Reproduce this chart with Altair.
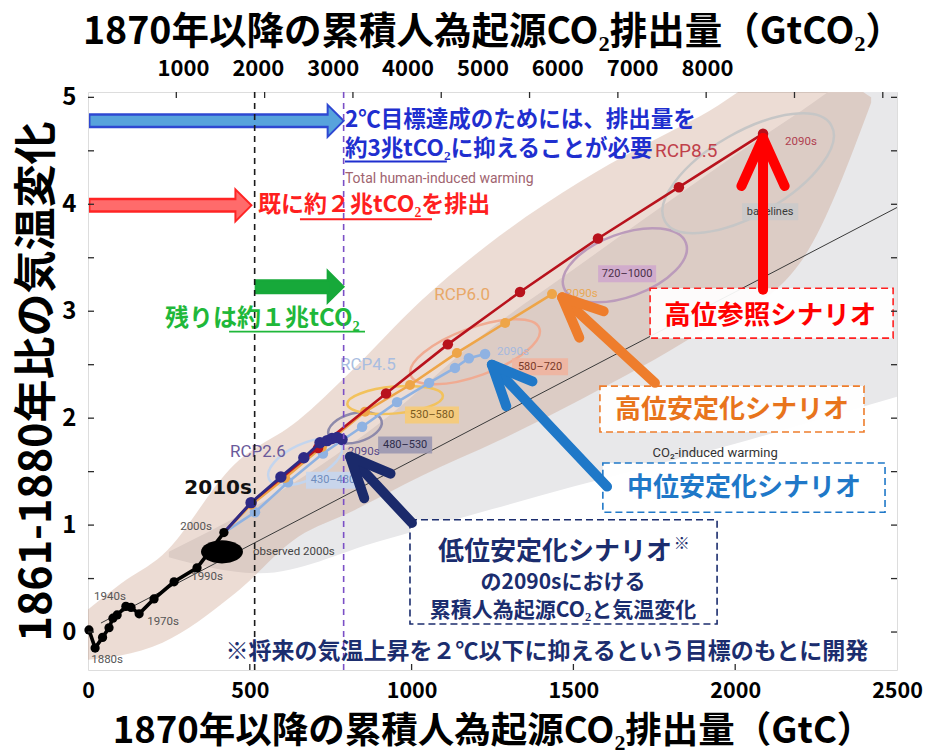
import math
import altair as alt
import pandas as pd

# ------------------------------------------------------------------ layout --
PLOT_W, PLOT_H = 809, 578
X_DOMAIN = [0, 2500]            # cumulative CO2 since 1870, GtC
Y_DOMAIN = [-0.355, 5.05]       # warming relative to 1861-1880, deg C
TOP_DOMAIN = [-269, 10539]      # GtCO2 label row along the top
PX_PER_GTC = PLOT_W / (X_DOMAIN[1] - X_DOMAIN[0])
PX_PER_DEG = PLOT_H / (Y_DOMAIN[1] - Y_DOMAIN[0])

JP = "Noto Sans CJK JP"
LAT = "Roboto"

# -------------------------------------------------------------------- data --
# observed decadal means (1880s ... 2000s)
obs_gtc = [3, 22, 45, 65, 77, 90, 117, 133, 158, 204, 266, 337, 420]
obs_dt = [0.02, -0.15, -0.05, 0.04, 0.13, 0.16, 0.24, 0.23, 0.17, 0.31, 0.47, 0.60, 0.93]

# RCP decadal means, starting from the observed 2000s
rcp26_gtc = [420, 504, 596, 667, 717, 739, 754, 770, 785]
rcp26_dt = [0.93, 1.21, 1.45, 1.63, 1.77, 1.79, 1.81, 1.82, 1.80]
rcp45_gtc = [420, 516, 618, 726, 847, 955, 1054, 1134, 1177, 1227]
rcp45_dt = [0.93, 1.12, 1.40, 1.67, 1.92, 2.15, 2.33, 2.47, 2.56, 2.60]
rcp60_gtc = [420, 504, 609, 723, 856, 995, 1140, 1289, 1434]
rcp60_dt = [0.93, 1.19, 1.44, 1.73, 2.06, 2.31, 2.61, 2.89, 3.16]
rcp85_gtc = [420, 504, 711, 921, 1112, 1335, 1576, 1826, 2086]
rcp85_dt = [0.93, 1.21, 1.72, 2.23, 2.69, 3.18, 3.68, 4.16, 4.66]

# CO2-induced warming (1 %/yr CO2 runs)
co2only_gtc = [40, 2500]
co2only_dt = [0.084, 3.97]

# total human-induced warming plume
tan_gtc = [0, 100, 230, 450, 650, 810, 1030, 1270, 1520, 1890, 2200, 2420]
tan_lo = [-0.26, -0.22, -0.10, 0.35, 0.89, 1.12, 1.46, 1.79, 2.17, 2.80, 3.45, 4.95]
tan_hi = [0.21, 0.45, 0.72, 1.56, 1.98, 2.43, 3.10, 3.70, 4.21, 4.82, 5.30, 5.00]

# CO2-induced warming plume
gray_gtc = [250, 530, 900, 1250, 1500, 1750, 2000, 2250, 2500]
gray_lo = [0.70, 0.55, 0.85, 1.15, 1.36, 1.56, 1.76, 1.98, 2.20]
gray_hi = [0.75, 1.20, 1.95, 2.85, 3.39, 3.93, 4.46, 4.97, 5.53]

# concentration-category ellipses (ppm CO2-eq in 2100)
ell_gtc = [671, 825, 949, 1196, 1659, 2040]
ell_dt = [1.59, 1.91, 2.17, 2.62, 3.43, 4.29]
ell_w = [80, 55, 96, 137, 130, 192]
ell_ratio = [0.45, 0.53, 0.28, 0.35, 0.485, 0.43]
ell_tilt = [25, 15, 5, 20, 20, 30]
ell_color = ["#c3d5ee", "#8d89aa", "#f2c25c", "#f0ab92", "#bb9bbb", "#c6c6c6"]

tag_text = ["430–480", "480–530", "530–580", "580–720", "720–1000", "baselines"]
tag_gtc = [757, 980, 1063, 1397, 1666, 2108]
tag_dt = [1.42, 1.75, 2.03, 2.48, 3.35, 3.93]
tag_w = [54, 54, 54, 56, 58, 56]
tag_bg = ["#c5d6ee", "#9a97b0", "#f6cb76", "#efb49f", "#cfa8cc", "#cacaca"]
tag_fg = ["#6f8cbc", "#2e2c4a", "#7a5a1e", "#7a3a28", "#4a3048", "#3a3a3a"]

# axis tick / label values
x_labels = [0, 500, 1000, 1500, 2000, 2500]
y_labels = [0, 1, 2, 3, 4, 5]
top_labels = [1000, 2000, 3000, 4000, 5000, 6000, 7000, 8000]
GTC_PER_1000_GTCO2 = 272.9
top_ticks = [GTC_PER_1000_GTCO2 * k for k in range(1, 10)]
bottom_ticks = [500, 1000, 1500, 2000]
side_ticks = [0.5 * k for k in range(0, 11)]

# budget lines: already emitted (2011) and 2 deg C budget
budget_gtc = [515, 790]
budget_color = ["#1a1a1a", "#7b4fc6"]

# ------------------------------------------------------------------ axes ---
XS = alt.Scale(domain=X_DOMAIN, nice=False, zero=False)
YS = alt.Scale(domain=Y_DOMAIN, nice=False, zero=False)

AX_X = alt.Axis(
    values=x_labels, format="d", ticks=False, domain=False, grid=False,
    labelFont=JP, labelFontWeight="bold", labelFontSize=21.5, labelColor="black",
    labelPadding=10, labelFlush=False, labelOverlap=False,
    title="1870年以降の累積人為起源CO₂排出量（GtC）", titleFont=JP,
    titleFontWeight="bold", titleFontSize=36.5, titleColor="black", titlePadding=12)
AX_Y = alt.Axis(
    values=y_labels, format="d", ticks=False, domain=False, grid=False,
    labelFont=JP, labelFontWeight="bold", labelFontSize=24, labelColor="black",
    labelPadding=12, labelFlush=False,
    title="1861-1880年比の気温変化", titleFont=JP, titleFontWeight="bold",
    titleFontSize=43, titleColor="black", titlePadding=2)


def X(f="x"):
    return alt.X(f"{f}:Q", scale=XS, axis=AX_X)


def Y(f="y"):
    return alt.Y(f"{f}:Q", scale=YS, axis=AX_Y)


def ellipse_path(r):
    k = 0.5523
    return (f"M1,0C1,{k*r:.4f} {k:.4f},{r:.4f} 0,{r:.4f}"
            f"C{-k:.4f},{r:.4f} -1,{k*r:.4f} -1,0"
            f"C-1,{-k*r:.4f} {-k:.4f},{-r:.4f} 0,{-r:.4f}"
            f"C{k:.4f},{-r:.4f} 1,{-k*r:.4f} 1,0Z")


def rect_path(r):
    return f"M-1,{-r:.4f}L1,{-r:.4f}L1,{r:.4f}L-1,{r:.4f}Z"


def text_layer(xs, ys, labels, **style):
    df = pd.DataFrame({"x": xs, "y": ys, "t": labels})
    return alt.Chart(df).mark_text(**style).encode(x=X(), y=Y(), text="t:N")


def series(xs, ys, color, width, dot, first_dot=1):
    df = pd.DataFrame({"x": xs, "y": ys, "i": list(range(len(xs)))})
    line = alt.Chart(df).mark_line(color=color, strokeWidth=width).encode(
        x=X(), y=Y(), order="i:Q")
    pts = alt.Chart(df.iloc[first_dot:]).mark_circle(
        color=color, size=dot, opacity=1).encode(x=X(), y=Y())
    return [line, pts]


layers = []

# --------------------------------------------------------------- plumes ----
layers.append(
    alt.Chart(pd.DataFrame({"x": gray_gtc, "lo": gray_lo, "hi": gray_hi}))
    .mark_area(color="#e8e8ea", interpolate="monotone", clip=True)
    .encode(x=X(), y=Y("lo"), y2=alt.Y2("hi"))
)
layers.append(
    alt.Chart(pd.DataFrame({"x": tan_gtc, "lo": tan_lo, "hi": tan_hi}))
    .mark_area(color="#c08a70", opacity=0.3, interpolate="monotone", clip=True)
    .encode(x=X(), y=Y("lo"), y2=alt.Y2("hi"))
)

# ------------------------------------------------------------- ellipses ----
ell_df = pd.DataFrame({
    "x": ell_gtc, "y": ell_dt,
    "shape": [ellipse_path(r) for r in ell_ratio],
    "size": [w * w for w in ell_w],
    "angle": [360 - t for t in ell_tilt],
    "c": ell_color,
})
layers.append(
    alt.Chart(ell_df).mark_point(filled=False, strokeWidth=2.5, opacity=1)
    .encode(x=X(), y=Y(), shape=alt.Shape("shape:N", scale=None),
            size=alt.Size("size:Q", scale=None), angle=alt.Angle("angle:Q", scale=None),
            color=alt.Color("c:N", scale=None))
)

# CO2-only line
layers.append(
    alt.Chart(pd.DataFrame({"x": co2only_gtc, "y": co2only_dt}))
    .mark_line(color="#3a3a3a", strokeWidth=1).encode(x=X(), y=Y())
)

# ---------------------------------------------------------------- tags -----
tag_df = pd.DataFrame({
    "x": tag_gtc, "y": tag_dt, "t": tag_text,
    "shape": [rect_path(17 / w) for w in tag_w],
    "size": [w * w for w in tag_w],
    "bg": tag_bg, "fg": tag_fg,
})
layers.append(
    alt.Chart(tag_df).mark_point(filled=True, opacity=0.9, strokeWidth=0)
    .encode(x=X(), y=Y(), shape=alt.Shape("shape:N", scale=None),
            size=alt.Size("size:Q", scale=None), color=alt.Color("bg:N", scale=None))
)
layers.append(
    alt.Chart(tag_df).mark_text(font=LAT, fontSize=11)
    .encode(x=X(), y=Y(), text="t:N", color=alt.Color("fg:N", scale=None))
)

# ------------------------------------------------------------ RCP lines ----
layers += series(rcp45_gtc, rcp45_dt, "#8fb2e2", 2.6, 110)
layers += series(rcp60_gtc, rcp60_dt, "#eea548", 2.6, 100)
layers += series(rcp85_gtc, rcp85_dt, "#b8121c", 2.6, 110)
layers += series(rcp26_gtc, rcp26_dt, "#2e2a86", 3.0, 130)
layers += series(obs_gtc, obs_dt, "#000000", 3.6, 85, first_dot=0)

# observed 2000s range
layers.append(
    alt.Chart(pd.DataFrame({"x": [414], "y": [0.75]}))
    .mark_point(shape=ellipse_path(0.55), size=42 * 42, filled=True, color="black", opacity=1)
    .encode(x=X(), y=Y())
)

# --------------------------------------------------- figure annotations ----
layers.append(text_layer([59, 68, 232, 368, 334], [-0.26, 0.33, 0.09, 0.51, 0.98],
                         ["1880s", "1940s", "1970s", "1990s", "2000s"],
                         font=LAT, fontSize=11.5, color="#555555"))
layers.append(text_layer([510], [0.75], ["observed 2000s"], align="left",
                         font=LAT, fontSize=11.5, color="#444444"))
layers.append(text_layer([402], [1.35], ["2010s"], font="DejaVu Sans",
                         fontWeight="bold", fontSize=20, color="#111111"))
layers.append(text_layer([794], [4.24], ["Total human-induced warming"], align="left",
                         font=LAT, fontSize=14, color="#a0646f"))
layers.append(text_layer([1938], [1.67], ["CO₂-induced warming"],
                         font=LAT, fontSize=13, color="#333333"))
layers.append(text_layer([1752], [4.50], ["RCP8.5"], align="left",
                         font=LAT, fontSize=19, color="#c0404a"))
layers.append(text_layer([1156], [3.15], ["RCP6.0"], font=LAT, fontSize=17, color="#e8a868"))
layers.append(text_layer([865], [2.50], ["RCP4.5"], font=LAT, fontSize=17, color="#a9bde0"))
layers.append(text_layer([525], [1.68], ["RCP2.6"], font=LAT, fontSize=17, color="#6a5a9a"))
for gx, gy, col in [(2154, 4.58, "#b04050"), (1477, 3.16, "#e9a855"),
                    (1264, 2.62, "#a6b9de"), (803, 1.68, "#5a4a8a")]:
    layers.append(text_layer([gx], [gy], ["2090s"], align="left",
                             font=LAT, fontSize=11.5, color=col))

# --------------------------------------------------------- budget arrows ---
fat_y = [4.78, 3.99, 3.23]
fat_from = [3, 3, 515]
fat_tip = [790, 505, 790]
fat_edge = ["#2e48d2", "#ff2424", "#17a93a"]
fat_fill = ["#57a3dc", "#ff6b6b", "#17a93a"]
HEAD_PX = 16
fat_df = pd.DataFrame({
    "y": fat_y, "x0": fat_from, "tip": fat_tip,
    "base": [t - HEAD_PX / PX_PER_GTC for t in fat_tip],
    "in0": [f + 1.5 / PX_PER_GTC for f in fat_from],
    "in1": [t - (HEAD_PX - 2) / PX_PER_GTC for t in fat_tip],
    "edge": fat_edge, "fill": fat_fill,
})
layers.append(alt.Chart(fat_df).mark_rule(strokeWidth=15, strokeCap="butt")
              .encode(x=X("x0"), x2=alt.X2("base"), y=Y(),
                      color=alt.Color("edge:N", scale=None)))
layers.append(alt.Chart(fat_df).mark_point(shape="M-1,-1L0,0L-1,1Z", size=1024, filled=True,
                                           opacity=1, strokeWidth=2)
              .encode(x=X("tip"), y=Y(), fill=alt.Fill("fill:N", scale=None),
                      stroke=alt.Stroke("edge:N", scale=None)))
layers.append(alt.Chart(fat_df).mark_rule(strokeWidth=10, strokeCap="butt")
              .encode(x=X("in0"), x2=alt.X2("in1"), y=Y(),
                      color=alt.Color("fill:N", scale=None)))

# budget texts
BLUE, RED, GREEN, NAVY = "#1f2fcf", "#ff1f1f", "#1fb83a", "#1b2d6e"
layers.append(text_layer([794], [4.785], ["2℃目標達成のためには、排出量を"], align="left",
                         font=JP, fontWeight="bold", fontSize=22.5, color=BLUE))
layers.append(text_layer([794], [4.52], ["約3兆tCO₂に抑えることが必要"], align="left",
                         font=JP, fontWeight="bold", fontSize=22.5, color=BLUE))
layers.append(text_layer([525], [3.99], ["既に約２兆tCO₂を排出"], align="left",
                         font=JP, fontWeight="bold", fontSize=23, color=RED))
layers.append(text_layer([238], [2.93], ["残りは約１兆tCO₂"], align="left",
                         font=JP, fontWeight="bold", fontSize=24, color=GREEN))
ul_df = pd.DataFrame({"x0": [794, 655, 436], "x1": [1109, 1063, 856],
                      "y": [4.40, 3.86, 2.81], "c": [BLUE, RED, GREEN]})
layers.append(alt.Chart(ul_df).mark_rule(strokeWidth=1.8)
              .encode(x=X("x0"), x2=alt.X2("x1"), y=Y(), color=alt.Color("c:N", scale=None)))

# budget lines
layers.append(alt.Chart(pd.DataFrame({"x": budget_gtc, "c": budget_color}))
              .mark_rule(strokeWidth=1.6, strokeDash=[6, 5])
              .encode(x=X(), y=alt.value(0), y2=alt.value(PLOT_H),
                      color=alt.Color("c:N", scale=None)))

# ------------------------------------------------------- scenario boxes ----
box_df = pd.DataFrame({
    "x0": [1737, 1582, 1591, 995], "x1": [2488, 2398, 2463, 1944],
    "y0": [2.748, 1.87, 1.12, 0.075], "y1": [3.215, 2.30, 1.58, 1.05],
    "c": ["#ff2020", "#ee7d2c", "#1f78c8", NAVY],
})
layers.append(alt.Chart(box_df).mark_rect(fill="white", fillOpacity=0.92,
                                          strokeDash=[7, 4], strokeWidth=1.6)
              .encode(x=X("x0"), x2=alt.X2("x1"), y=Y("y0"), y2=alt.Y2("y1"),
                      stroke=alt.Stroke("c:N", scale=None)))
layers.append(text_layer([2108], [2.96], ["高位参照シナリオ"], font=JP, fontWeight="bold",
                         fontSize=26.5, color="#ff0000"))
layers.append(text_layer([1990], [2.08], ["高位安定化シナリオ"], font=JP, fontWeight="bold",
                         fontSize=26, color="#e8741c"))
layers.append(text_layer([2027], [1.35], ["中位安定化シナリオ"], font=JP, fontWeight="bold",
                         fontSize=26, color="#1f78c8"))
layers.append(text_layer([1443], [0.75], ["低位安定化シナリオ"], font=JP, fontWeight="bold",
                         fontSize=26, color=NAVY))
layers.append(text_layer([1835], [0.82], ["※"], font=JP, fontWeight="bold",
                         fontSize=16, color=NAVY))
layers.append(text_layer([1468], [0.455], ["の2090sにおける"], font=JP, fontWeight="bold",
                         fontSize=21, color=NAVY))
layers.append(text_layer([1468], [0.195], ["累積人為起源CO₂と気温変化"], font=JP, fontWeight="bold",
                         fontSize=21, color=NAVY))
layers.append(text_layer([1418], [-0.19], ["※将来の気温上昇を２℃以下に抑えるという目標のもとに開発"],
                         font=JP, fontWeight="bold", fontSize=23, color=NAVY))

# pointer arrows from boxes to the 2090s values
arr_tail_x = [2086, 1752, 1604, 1001]
arr_tail_y = [3.20, 2.33, 1.36, 1.02]
arr_tip_x = [2086, 1465, 1248, 810]
arr_tip_y = [4.62, 3.13, 2.50, 1.64]
arr_color = ["#ff0000", "#ee7d2c", "#1f78c8", "#1b2a6b"]
arr_head = [9216, 6400, 6400, 6400]
arr_angle = []
for x0, y0, x1, y1 in zip(arr_tail_x, arr_tail_y, arr_tip_x, arr_tip_y):
    dx = (x1 - x0) * PX_PER_GTC
    dy = (y1 - y0) * PX_PER_DEG
    arr_angle.append(math.degrees(math.atan2(dx, dy)) % 360)
arr_df = pd.DataFrame({"x0": arr_tail_x, "y0": arr_tail_y, "x1": arr_tip_x, "y1": arr_tip_y,
                       "c": arr_color, "size": arr_head, "angle": arr_angle})
layers.append(alt.Chart(arr_df).mark_rule(strokeWidth=10, strokeCap="round")
              .encode(x=X("x0"), y=Y("y0"), x2=alt.X2("x1"), y2=alt.Y2("y1"),
                      color=alt.Color("c:N", scale=None)))
layers.append(alt.Chart(arr_df).mark_point(shape="M-0.45,1L0,0L0.45,1", filled=False, opacity=1,
                                           strokeWidth=10, strokeCap="round", strokeJoin="round")
              .encode(x=X("x1"), y=Y("y1"), size=alt.Size("size:Q", scale=None),
                      angle=alt.Angle("angle:Q", scale=None),
                      color=alt.Color("c:N", scale=None)))

# ------------------------------------------------------------ frame ticks --
TICK = 6
layers.append(alt.Chart(pd.DataFrame({"x": top_ticks})).mark_rule(color="#2b2b2b", strokeWidth=1.3)
              .encode(x=X(), y=alt.value(0), y2=alt.value(TICK)))
layers.append(alt.Chart(pd.DataFrame({"x": bottom_ticks})).mark_rule(color="#2b2b2b", strokeWidth=1.3)
              .encode(x=X(), y=alt.value(PLOT_H), y2=alt.value(PLOT_H - TICK)))
layers.append(alt.Chart(pd.DataFrame({"y": side_ticks})).mark_rule(color="#2b2b2b", strokeWidth=1.3)
              .encode(y=Y(), x=alt.value(0), x2=alt.value(TICK)))
layers.append(alt.Chart(pd.DataFrame({"y": side_ticks})).mark_rule(color="#2b2b2b", strokeWidth=1.3)
              .encode(y=Y(), x=alt.value(PLOT_W), x2=alt.value(PLOT_W - TICK)))

# GtCO2 label row along the top, on a scale of its own
top_axis = alt.Chart(pd.DataFrame({"v": top_labels})).mark_point(opacity=0).encode(
    x=alt.X("v:Q", scale=alt.Scale(domain=TOP_DOMAIN, nice=False, zero=False),
            axis=alt.Axis(orient="top", values=top_labels, format="d", ticks=False,
                          domain=False, grid=False, labelFont=JP, labelFontWeight="bold",
                          labelFontSize=22, labelColor="black", labelPadding=12,
                          title="1870年以降の累積人為起源CO₂排出量（GtCO₂）", titleFont=JP,
                          titleFontWeight="bold", titleFontSize=37.5, titleColor="black",
                          titlePadding=6)),
    y=alt.value(0),
)

chart = (
    alt.layer(alt.layer(*layers), top_axis)
    .resolve_scale(x="independent")
    .properties(width=PLOT_W, height=PLOT_H,
                autosize=alt.AutoSizeParams(type="none"),
                padding={"left": 88, "top": 92, "right": 41, "bottom": 85})
    .configure_view(stroke="#2b2b2b", strokeWidth=1.5)
    .configure(background="white")
)

chart.save("out.html", embed_options={"renderer": "svg", "actions": False})
